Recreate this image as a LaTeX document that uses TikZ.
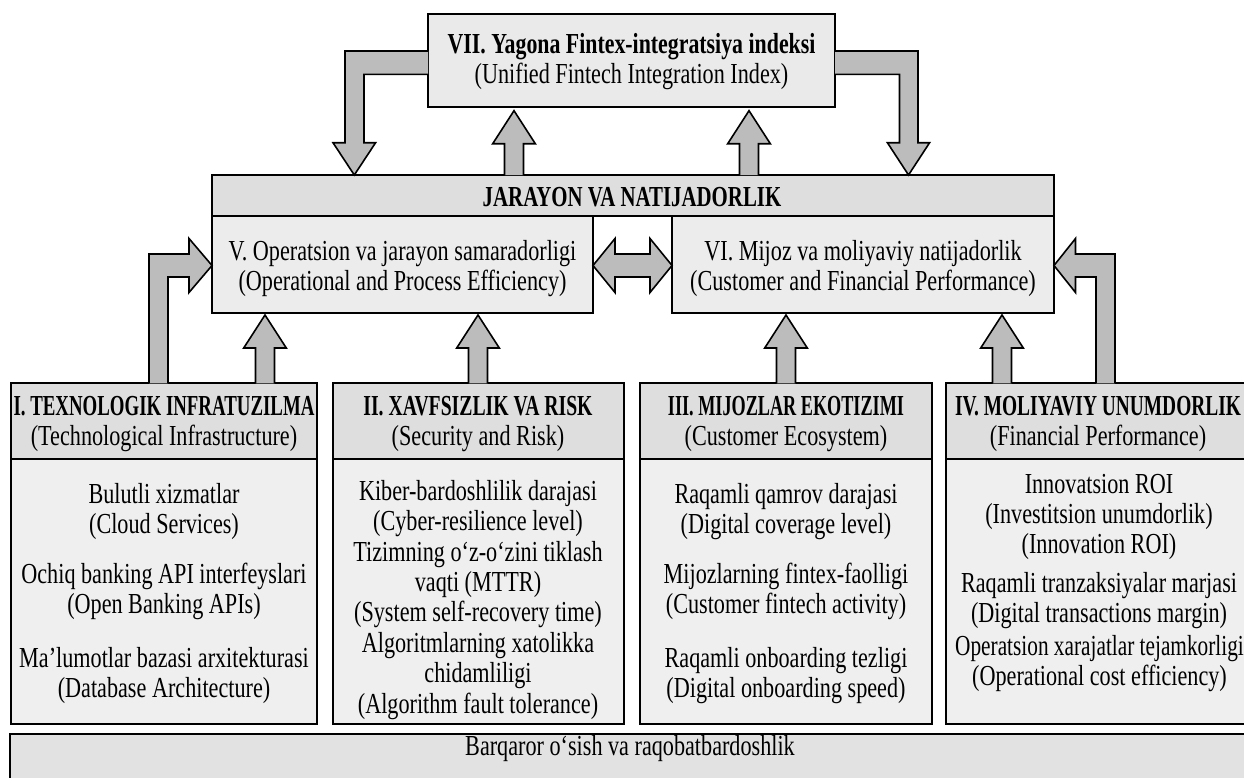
\documentclass[tikz,border=0pt]{standalone}
\usepackage{fontspec}
\usepackage{graphicx}
\setmainfont{Liberation Serif}[FakeStretch=0.765]
\definecolor{arrowgray}{RGB}{188,188,188}
\definecolor{topfill}{RGB}{234,234,234}
\definecolor{headfill}{RGB}{222,222,222}
\definecolor{midfill}{RGB}{236,236,236}
\definecolor{bodyfill}{RGB}{239,239,239}
\definecolor{barfill}{RGB}{226,226,226}
\newcommand\mkbox[6]{\node[boxnode, fill=#6, minimum width={#4-#2}, minimum height={#5-#3}] (#1) at (#2,#3) {};}
\newcommand\uparr[4]{% cx, ytail, ytip
  \filldraw[blockarrow] (#1-9.5,#2) -- (#1-9.5,#3+33) -- (#1-21.3,#3+33) -- (#1,#3) -- (#1+21.3,#3+33) -- (#1+9.5,#3+33) -- (#1+9.5,#2);}
\begin{document}
\begin{tikzpicture}[x=1pt,y=-1pt,
  boxnode/.style={draw=black, line width=2pt, inner sep=0pt, anchor=north west, outer sep=0pt},
  blockarrow/.style={fill=arrowgray, draw=black, line width=1.6pt, line join=miter},
  txt/.style={align=center, inner sep=0pt, anchor=base, font=\fontsize{29}{30}\selectfont},
  txtII/.style={txt, font=\fontsize{29}{30.4}\selectfont}]
\useasboundingbox (0,0) rectangle (1244,777);
\fill[white] (0,0) rectangle (1244,777);

% boxes
\mkbox{vii}{428}{13.5}{835}{107.3}{topfill}
\mkbox{jar}{212}{175}{1054}{216}{headfill}
\mkbox{v}{212}{216}{593}{313.3}{midfill}
\mkbox{vi}{672}{216}{1054}{313.3}{midfill}
\mkbox{h1}{11}{383.3}{317}{459}{headfill}
\mkbox{b1}{11}{459}{317}{724.3}{bodyfill}
\mkbox{h2}{333}{383.3}{623.5}{459}{headfill}
\mkbox{b2}{333}{459}{623.5}{724.3}{bodyfill}
\mkbox{h3}{640}{383.3}{932}{459}{headfill}
\mkbox{b3}{640}{459}{932}{724.3}{bodyfill}
\mkbox{h4}{946}{383.3}{1256}{459}{headfill}
\mkbox{b4}{946}{459}{1256}{724.3}{bodyfill}
\node[boxnode, fill=barfill, line width=2.5pt, minimum width=1250, minimum height=70] (bar) at (10,734) {};

% texts (anchor=base is the baseline of the last line)
\node[txt] (tvii) at (631.5,83) {\scalebox{0.985}[1]{\bfseries VII. Yagona Fintex-integratsiya indeksi}\\(Unified Fintech Integration Index)};
\node[txt] (tjar) at (632,206.7) {\scalebox{0.94}[1]{\bfseries JARAYON VA NATIJADORLIK}};
\node[txt] (tv) at (402.5,290) {V. Operatsion va jarayon samaradorligi\\(Operational and Process Efficiency)};
\node[txt] (tvi) at (863,290) {VI. Mijoz va moliyaviy natijadorlik\\(Customer and Financial Performance)};

\node[txt] (th1) at (164,445.5) {\scalebox{0.85}[1]{\bfseries I. TEXNOLOGIK INFRATUZILMA}\\(Technological Infrastructure)};
\node[txt] (th2) at (478,445.5) {\scalebox{0.888}[1]{\bfseries II. XAVFSIZLIK VA RISK}\\(Security and Risk)};
\node[txt] (th3) at (786,445.5) {\scalebox{0.82}[1]{\bfseries III. MIJOZLAR EKOTIZIMI}\\(Customer Ecosystem)};
\node[txt] (th4) at (1098,445.5) {\scalebox{0.875}[1]{\bfseries IV. MOLIYAVIY UNUMDORLIK}\\(Financial Performance)};

\node[txt] (t1a) at (164,533) {Bulutli xizmatlar\\(Cloud Services)};
\node[txt] (t1b) at (164,613) {Ochiq banking API interfeyslari\\(Open Banking APIs)};
\node[txt] (t1c) at (164,697) {Ma’lumotlar bazasi arxitekturasi\\(Database Architecture)};

\node[txtII] (t2) at (478,713) {Kiber-bardoshlilik darajasi\\(Cyber-resilience level)\\Tizimning o‘z-o‘zini tiklash\\vaqti (MTTR)\\(System self-recovery time)\\Algoritmlarning xatolikka\\chidamliligi\\(Algorithm fault tolerance)};

\node[txt] (t3a) at (786,533) {Raqamli qamrov darajasi\\(Digital coverage level)};
\node[txt] (t3b) at (786,613) {Mijozlarning fintex-faolligi\\(Customer fintech activity)};
\node[txt] (t3c) at (786,697) {Raqamli onboarding tezligi\\(Digital onboarding speed)};

\node[txt] (t4a) at (1099,553) {Innovatsion ROI\\(Investitsion unumdorlik)\\(Innovation ROI)};
\node[txt] (t4b) at (1099,622) {Raqamli tranzaksiyalar marjasi\\(Digital transactions margin)};
\node[txt] (t4c) at (1099.5,685) {\scalebox{0.96}[1]{Operatsion xarajatlar tejamkorligi}\\(Operational cost efficiency)};

\node[txt] (tbar) at (630,755) {Barqaror o‘sish va raqobatbardoshlik};

% arrows VII -> JARAYON (L-shaped)
\filldraw[blockarrow] (vii.west |- 0,51) -- (345,51) -- (345,142.7) -- (333,142.7) -- (354.3,175) -- (375.6,142.7) -- (364,142.7) -- (364,74.3) -- (vii.west |- 0,74.3);
\filldraw[blockarrow] (vii.east |- 0,51) -- (918,51) -- (918,142.7) -- (929.6,142.7) -- (908.5,175) -- (887.4,142.7) -- (899.5,142.7) -- (899.5,74.3) -- (vii.east |- 0,74.3);
% up arrows into VII
\uparr{514}{175}{110.7}{}
\uparr{749}{175}{110.7}{}
% up arrows into V and VI
\uparr{265}{383.3}{315}{}
\uparr{478}{383.3}{315}{}
\uparr{786}{383.3}{315}{}
\uparr{1002}{383.3}{315}{}
% L arrows from I and IV
\filldraw[blockarrow] (149,383.3) -- (149,254) -- (189,254) -- (189,238.5) -- (v.west |- 0,265.5) -- (189,292.5) -- (189,277) -- (168,277) -- (168,383.3);
\filldraw[blockarrow] (1115,383.3) -- (1115,254) -- (1075.5,254) -- (1075.5,238.5) -- (vi.east |- 0,265.5) -- (1075.5,292.5) -- (1075.5,277) -- (1096,277) -- (1096,383.3);
% double arrow V <-> VI
\filldraw[blockarrow] (v.east |- 0,265.5) -- (615,238.5) -- (615,254) -- (650,254) -- (650,238.5) -- (vi.west |- 0,265.5) -- (650,292.5) -- (650,277) -- (615,277) -- (615,292.5) -- cycle;
\end{tikzpicture}
\end{document}
